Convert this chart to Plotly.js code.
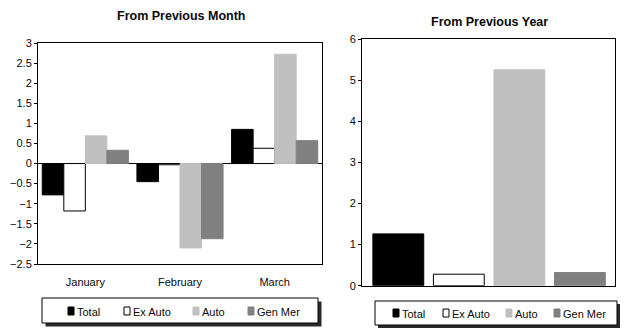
<!DOCTYPE html>
<html>
<head>
<meta charset="utf-8">
<script src="https://cdn.plot.ly/plotly-3.0.1.min.js"></script>
<style>html,body{margin:0;padding:0;background:#fff;}#chart{width:640px;height:335px;}</style>
</head>
<body>
<div id="chart"></div>
<script>
// ---- Data ----
const months = ["January", "February", "March"];
const seriesNames = ["Total", "Ex Auto", "Auto", "Gen Mer"];
const monthTotal = [-0.78, -0.45, 0.85];
const monthExAuto = [-1.18, -0.03, 0.38];
const monthAuto = [0.69, -2.10, 2.72];
const monthGenMer = [0.33, -1.87, 0.57];
const yearValues = [1.26, 0.28, 5.25, 0.32];

// ---- Styles ----
const fills = ["#000000", "#ffffff", "#c0c0c0", "#808080"];
const lines = ["#000000", "#000000", "#c0c0c0", "#808080"];
const monthSeries = [monthTotal, monthExAuto, monthAuto, monthGenMer];

const FONT = "Liberation Sans, Arial, sans-serif";
const TXT = "#0a0a0a";
const traces = [];
seriesNames.forEach((name, i) => {
  traces.push({
    type: "bar", name: name, x: months, y: monthSeries[i],
    xaxis: "x", yaxis: "y",
    marker: {color: fills[i], line: {color: lines[i], width: 1}},
    hoverinfo: "x+y+name"
  });
});
seriesNames.forEach((name, i) => {
  traces.push({
    type: "bar", name: name, x: [name], y: [yearValues[i]],
    xaxis: "x2", yaxis: "y2",
    width: 0.84, offset: -0.42,
    marker: {color: fills[i], line: {color: lines[i], width: 1}},
    hoverinfo: "y+name"
  });
});

const W = 640, H = 335;
const px = v => v / W, py = v => 1 - v / H;

// ---- Legend boxes (pixel layout) ----
const legendBoxes = [
  {box: [42, 298, 318, 323], shadow: 3.5, textY: 311.5, swatchY: [307, 315], items: [68, 124, 193, 248]},
  {box: [375, 301, 617, 325], shadow: 3, textY: 313.5, swatchY: [309, 317], items: [393, 443, 506, 554]}
];

const shapes = [];
const annotations = [
  {text: "<b>From Previous Month</b>", xref: "paper", yref: "paper", x: px(180.5), y: py(16),
    xanchor: "center", yanchor: "middle", showarrow: false, font: {family: FONT, size: 12.5, color: TXT}},
  {text: "<b>From Previous Year</b>", xref: "paper", yref: "paper", x: px(489.5), y: py(22),
    xanchor: "center", yanchor: "middle", showarrow: false, font: {family: FONT, size: 12.5, color: TXT}}
];
legendBoxes.forEach(lb => {
  const [x0, y0, x1, y1] = lb.box;
  shapes.push({type: "rect", xref: "paper", yref: "paper",
    x0: px(x0 + lb.shadow), x1: px(x1 + lb.shadow), y0: py(y1 + lb.shadow), y1: py(y0 + lb.shadow),
    fillcolor: "#2a2a2a", line: {width: 0}});
  shapes.push({type: "rect", xref: "paper", yref: "paper",
    x0: px(x0), x1: px(x1), y0: py(y1), y1: py(y0),
    fillcolor: "#ffffff", line: {color: "#000", width: 1}});
  seriesNames.forEach((name, i) => {
    const sx = lb.items[i];
    shapes.push({type: "rect", xref: "paper", yref: "paper",
      x0: px(sx), x1: px(sx + 6), y0: py(lb.swatchY[1]), y1: py(lb.swatchY[0]),
      fillcolor: fills[i], line: {color: lines[i], width: 1}});
    annotations.push({text: name, xref: "paper", yref: "paper", x: px(sx + 6.5), y: py(lb.textY),
      xanchor: "left", yanchor: "middle", showarrow: false,
      font: {family: FONT, size: 11, color: TXT}});
  });
});

const axisCommon = {showline: true, linecolor: "#000", linewidth: 1, mirror: true,
  showgrid: false, tickfont: {family: FONT, size: 11, color: TXT}, fixedrange: true};

const leftYDomain = [py(264), py(43)];
const rightYDomain = [py(285.7), py(39)];

const layout = {
  width: W, height: H,
  margin: {l: 0, r: 0, t: 0, b: 0},
  paper_bgcolor: "#fff", plot_bgcolor: "#fff",
  barmode: "group", bargap: 0.09, bargroupgap: 0,
  showlegend: false,
  font: {family: FONT, size: 11, color: TXT},
  xaxis: Object.assign({}, axisCommon, {
    domain: [px(38), px(322)], anchor: "y", type: "category",
    ticks: "", ticklabelstandoff: 8, zeroline: false
  }),
  yaxis: Object.assign({}, axisCommon, {
    domain: leftYDomain, anchor: "x", range: [-2.5, 3], dtick: 0.5,
    ticks: "outside", ticklen: 3, tickcolor: "#000",
    zeroline: true, zerolinecolor: "#000", zerolinewidth: 1
  }),
  // inner half of the crossing tick marks
  yaxis3: {overlaying: "y", anchor: "x", side: "left", range: [-2.5, 3], dtick: 0.5,
    ticks: "inside", ticklen: 3, tickcolor: "#000", showticklabels: false,
    showline: false, showgrid: false, zeroline: false, fixedrange: true},
  xaxis2: Object.assign({}, axisCommon, {
    domain: [px(362), px(615)], anchor: "y2", type: "category",
    range: [-0.6, 3.58], showticklabels: false, ticks: "", zeroline: false
  }),
  yaxis2: Object.assign({}, axisCommon, {
    domain: rightYDomain, anchor: "x2", range: [0, 6], dtick: 1,
    ticks: "outside", ticklen: 3, tickcolor: "#000", zeroline: false
  }),
  yaxis4: {overlaying: "y2", anchor: "x2", side: "left", range: [0, 6], dtick: 1,
    ticks: "inside", ticklen: 3, tickcolor: "#000", showticklabels: false,
    showline: false, showgrid: false, zeroline: false, fixedrange: true},
  shapes: shapes,
  annotations: annotations
};

Plotly.newPlot("chart", traces, layout, {displayModeBar: false, staticPlot: true});
</script>
</body>
</html>
